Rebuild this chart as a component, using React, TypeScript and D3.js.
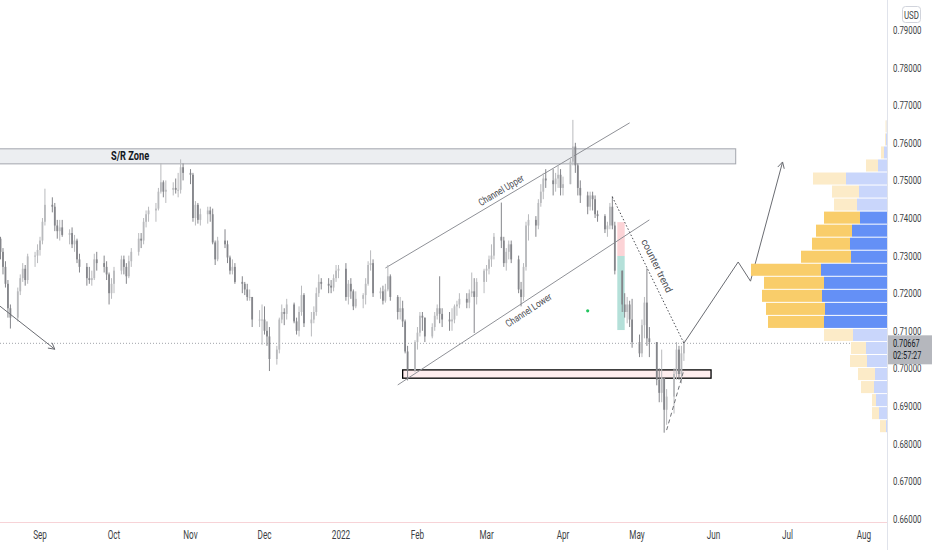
import { useRef, useEffect } from 'react'
import * as d3 from 'd3'

type Hlc = [number, number, number]

// AUD/USD daily bars, [high, low, close] in pips (price * 10000), weekdays only
const aug21: Hlc[] = [
  [7350, 7290, 7310], [7320, 7250, 7270], [7285, 7215, 7225], [7235, 7135, 7160], [7170, 7106, 7135],
  [7215, 7125, 7205], [7250, 7195, 7240], [7280, 7230, 7265], [7275, 7220, 7235], [7305, 7225, 7298],
  [7310, 7270, 7300], [7330, 7280, 7315],
]
const sep21: Hlc[] = [
  [7350, 7300, 7340], [7400, 7330, 7390], [7478, 7380, 7435], [7455, 7415, 7430], [7440, 7365, 7380],
  [7395, 7345, 7365], [7395, 7340, 7375], [7395, 7350, 7355], [7370, 7330, 7360], [7375, 7320, 7330],
  [7355, 7310, 7340], [7345, 7280, 7290], [7305, 7255, 7270], [7280, 7220, 7240], [7270, 7225, 7235],
  [7260, 7220, 7240], [7305, 7235, 7290], [7310, 7260, 7280], [7300, 7255, 7270], [7285, 7235, 7250],
  [7255, 7170, 7200], [7240, 7185, 7225],
]
const oct21: Hlc[] = [
  [7270, 7200, 7260], [7300, 7250, 7290], [7300, 7250, 7270], [7280, 7225, 7245], [7300, 7240, 7285],
  [7320, 7270, 7310], [7360, 7300, 7345], [7360, 7320, 7340], [7400, 7330, 7390], [7420, 7375, 7410],
  [7430, 7390, 7420], [7440, 7390, 7425], [7480, 7420, 7470], [7546, 7465, 7495], [7500, 7455, 7470],
  [7500, 7440, 7475], [7495, 7460, 7480], [7505, 7465, 7475], [7520, 7455, 7475], [7556, 7465, 7535],
  [7545, 7500, 7520],
]
const nov21: Hlc[] = [
  [7530, 7490, 7515], [7520, 7390, 7400], [7445, 7380, 7435], [7440, 7385, 7395], [7425, 7380, 7410],
  [7430, 7385, 7420], [7430, 7390, 7410], [7425, 7330, 7335], [7340, 7275, 7290], [7350, 7285, 7340],
  [7370, 7320, 7330], [7340, 7280, 7295], [7300, 7250, 7260], [7290, 7250, 7270], [7280, 7225, 7230],
  [7245, 7200, 7225], [7230, 7195, 7210], [7225, 7180, 7190], [7210, 7180, 7190], [7190, 7110, 7130],
  [7155, 7110, 7130], [7170, 7063, 7130],
]
const dec21: Hlc[] = [
  [7165, 7090, 7100], [7125, 7060, 7085], [7110, 6993, 7025], [7060, 7010, 7050], [7135, 7040, 7130],
  [7170, 7120, 7150], [7160, 7115, 7145], [7185, 7130, 7170], [7175, 7120, 7125], [7135, 7090, 7100],
  [7165, 7085, 7150], [7220, 7140, 7195], [7200, 7110, 7120], [7150, 7085, 7130], [7165, 7120, 7150],
  [7215, 7140, 7200], [7250, 7190, 7230], [7240, 7210, 7225], [7240, 7200, 7220], [7235, 7200, 7215],
  [7250, 7205, 7240], [7275, 7230, 7260], [7275, 7240, 7265],
]
const jan22: Hlc[] = [
  [7280, 7180, 7190], [7235, 7170, 7225], [7240, 7185, 7205], [7210, 7155, 7165], [7205, 7160, 7185],
  [7200, 7160, 7195], [7240, 7170, 7225], [7285, 7220, 7275], [7314, 7260, 7280], [7290, 7190, 7200],
  [7215, 7185, 7205], [7220, 7170, 7180], [7225, 7175, 7210], [7275, 7205, 7245], [7250, 7180, 7190],
  [7195, 7130, 7150], [7190, 7130, 7160], [7180, 7110, 7125], [7130, 7040, 7045], [7060, 6968, 6995],
  [7075, 6990, 7070],
]
const feb22: Hlc[] = [
  [7110, 7050, 7095], [7150, 7085, 7140], [7150, 7100, 7135], [7135, 7070, 7085], [7120, 7080, 7110],
  [7150, 7100, 7140], [7170, 7130, 7160], [7245, 7120, 7145], [7160, 7110, 7130], [7150, 7100, 7125],
  [7160, 7100, 7130], [7170, 7120, 7165], [7180, 7140, 7170], [7200, 7160, 7185], [7200, 7160, 7175],
  [7210, 7160, 7200], [7255, 7190, 7205], [7240, 7094, 7190], [7240, 7170, 7230], [7265, 7200, 7260],
]
const mar22: Hlc[] = [
  [7275, 7230, 7265], [7300, 7250, 7290], [7330, 7270, 7300], [7360, 7290, 7350], [7441, 7320, 7340],
  [7350, 7270, 7280], [7320, 7260, 7310], [7340, 7290, 7330], [7340, 7280, 7290], [7300, 7200, 7210],
  [7230, 7165, 7190], [7280, 7180, 7270], [7390, 7260, 7380], [7410, 7340, 7395], [7405, 7350, 7380],
  [7450, 7370, 7440], [7490, 7430, 7470], [7520, 7450, 7505], [7530, 7480, 7500], [7530, 7460, 7490],
  [7520, 7470, 7505], [7540, 7480, 7515], [7530, 7460, 7480],
]
const apr22: Hlc[] = [
  [7510, 7460, 7490], [7560, 7490, 7550], [7661, 7540, 7590], [7600, 7520, 7540], [7545, 7460, 7480],
  [7500, 7440, 7460], [7470, 7410, 7430], [7470, 7420, 7460], [7470, 7420, 7450], [7460, 7400, 7410],
  [7420, 7390, 7405], [7410, 7360, 7370], [7390, 7350, 7380], [7440, 7370, 7430], [7458, 7370, 7380],
  [7390, 7250, 7260], [7260, 7150, 7170], [7200, 7135, 7150], [7190, 7120, 7170], [7180, 7110, 7130],
  [7185, 7055, 7070],
]
const may22: Hlc[] = [
  [7090, 7030, 7040], [7130, 7030, 7115], [7190, 7080, 7175], [7266, 7060, 7080], [7110, 7030, 7070],
  [7060, 6955, 6970], [7000, 6910, 6935], [7050, 6910, 6975], [6960, 6829, 6890], [6945, 6850, 6925],
  [7000, 6880, 6985], [7070, 6970, 7050], [7060, 6970, 6985], [7060, 6960, 7040], [7075, 7020, 7067],
]
const firstDay = '2021-08-16'
const firstOpen = 7345

const monthStarts = [
  '2021-09-01', '2021-10-01', '2021-11-01', '2021-12-01', '2022-01-01', '2022-02-01',
  '2022-03-01', '2022-04-01', '2022-05-01', '2022-06-01', '2022-07-01', '2022-08-01',
]
const monthLabels = ['Sep', 'Oct', 'Nov', 'Dec', '2022', 'Feb', 'Mar', 'Apr', 'May', 'Jun', 'Jul', 'Aug']
const priceTicks = [0.79, 0.78, 0.77, 0.76, 0.75, 0.74, 0.73, 0.72, 0.71, 0.70, 0.69, 0.68, 0.67, 0.66]

// visible range volume profile, rows from the high down to the low
const vpHigh = 0.7661
const vpLow = 0.6829
const vpUp = [0.5, 1, 3, 9, 41, 28, 30, 27, 35, 37, 36, 66, 63, 65, 62, 63, 34, 21, 20, 12, 13, 11, 8, 1]
const vpDown = [1, 1, 3, 12, 33, 27, 23, 36, 36, 38, 50, 70, 60, 60, 59, 56, 29, 15, 17, 17, 13, 4, 7, 6]
const vpValueArea = [7, 15]

const lastPrice = 0.70667
const countdown = '02:57:27'

// drawings, anchored as [date, price]
const srZone = { from: '2021-02-04', to: '2022-06-10', top: 0.7584, bottom: 0.7544, label: 'S/R Zone' }
const supportBox = { from: '2022-01-26', to: '2022-05-31', top: 0.6996, bottom: 0.6974 }
const channelUpper: [string, number][] = [['2022-01-19', 0.7267], ['2022-04-28', 0.7653]]
const channelLower: [string, number][] = [['2022-01-24', 0.6956], ['2022-05-06', 0.7395]]
const counterTrend: [string, number][] = [['2022-04-21', 0.7456], ['2022-05-20', 0.7067]]
const bounceDashed: [string, number][] = [['2022-05-13', 0.6836], ['2022-05-20', 0.6996]]
const projection: [string, number][] = [
  ['2022-05-20', 0.7067], ['2022-06-11', 0.7283], ['2022-06-16', 0.7232], ['2022-06-29', 0.7549],
]
const leftArrow: [string, number][] = [['2021-08-12', 0.7185], ['2021-09-07', 0.7051]]
const riskBox = { from: '2022-04-23', to: '2022-04-26', stop: 0.7389, entry: 0.7299, target: 0.7102 }
const marker: [string, number] = ['2022-04-11', 0.7153]

const parse = d3.timeParse('%Y-%m-%d') as (s: string) => Date
const FONT = 'Roboto, "Liberation Sans", sans-serif'

export default function App() {
  const svgRef = useRef<SVGSVGElement>(null)

  useEffect(() => {
    if (!svgRef.current) return
    const svg = d3.select(svgRef.current)
    svg.selectAll('*').remove()

    const width = 932
    const height = 550
    const plotRight = 887
    const plotBottom = 522

    const x = d3.scaleTime().domain([parse('2021-09-01'), parse('2022-08-01')]).range([40, 864])
    const y = d3.scaleLinear().domain([0.66, 0.79]).range([518.8, 30])

    // bars on weekdays
    const rows = [aug21, sep21, oct21, nov21, dec21, jan22, feb22, mar22, apr22, may22].flat()
    const bars: { date: Date; open: number; high: number; low: number; close: number }[] = []
    let day = parse(firstDay)
    let prev = firstOpen
    for (const [h, l, c] of rows) {
      while (day.getDay() === 0 || day.getDay() === 6) day = d3.timeDay.offset(day, 1)
      bars.push({
        date: day,
        open: prev / 1e4,
        high: Math.max(h, prev, c) / 1e4,
        low: Math.min(l, prev, c) / 1e4,
        close: c / 1e4,
      })
      prev = c
      day = d3.timeDay.offset(day, 1)
    }

    svg.attr('width', width).attr('height', height)
    svg.append('rect').attr('width', width).attr('height', height).attr('fill', '#ffffff')

    svg.append('defs').append('clipPath').attr('id', 'plot')
      .append('rect').attr('x', 0).attr('y', 0).attr('width', plotRight).attr('height', plotBottom)

    const g = svg.append('g').attr('clip-path', 'url(#plot)')
    const pt = (p: [string, number]) => [x(parse(p[0])), y(p[1])] as [number, number]
    const line = d3.line()

    // S/R zone
    const srX0 = x(parse(srZone.from))
    const srX1 = x(parse(srZone.to))
    g.append('rect')
      .attr('x', srX0).attr('y', y(srZone.top))
      .attr('width', srX1 - srX0).attr('height', y(srZone.bottom) - y(srZone.top))
      .attr('fill', '#eceef1').attr('stroke', '#a3a6ad').attr('stroke-width', 1)
    g.append('text')
      .attr('transform', `translate(${(srX0 + srX1) / 2},${(y(srZone.top) + y(srZone.bottom)) / 2 + 4}) scale(0.74,1)`)
      .attr('text-anchor', 'middle').attr('font-family', FONT).attr('font-size', 12.5).attr('font-weight', 700)
      .attr('fill', '#131722').text(srZone.label)

    // support box
    const sbX0 = x(parse(supportBox.from))
    const sbX1 = x(parse(supportBox.to))
    g.append('rect')
      .attr('x', sbX0).attr('y', y(supportBox.top))
      .attr('width', sbX1 - sbX0).attr('height', y(supportBox.bottom) - y(supportBox.top))
      .attr('fill', 'rgba(242, 54, 69, 0.09)').attr('stroke', '#000000').attr('stroke-width', 1.3)

    // long/short position box
    const rbX0 = x(parse(riskBox.from))
    const rbX1 = x(parse(riskBox.to))
    g.append('rect')
      .attr('x', rbX0).attr('y', y(riskBox.stop)).attr('width', rbX1 - rbX0)
      .attr('height', y(riskBox.entry) - y(riskBox.stop)).attr('fill', 'rgba(242, 54, 69, 0.22)')
    g.append('rect')
      .attr('x', rbX0).attr('y', y(riskBox.entry)).attr('width', rbX1 - rbX0)
      .attr('height', y(riskBox.target) - y(riskBox.entry)).attr('fill', 'rgba(8, 153, 129, 0.3)')

    // channel lines
    for (const seg of [channelUpper, channelLower]) {
      g.append('path').attr('d', line(seg.map(pt))).attr('fill', 'none')
        .attr('stroke', '#8f9197').attr('stroke-width', 1)
    }

    // dotted current price line
    g.append('line')
      .attr('x1', 0).attr('x2', plotRight).attr('y1', y(lastPrice)).attr('y2', y(lastPrice))
      .attr('stroke', '#a0a3aa').attr('stroke-dasharray', '1,2')

    // candles
    const upColor = '#b9babd'
    const downColor = '#85868b'
    const cg = g.append('g')
    cg.selectAll('line.wick')
      .data(bars)
      .join('line')
      .attr('class', 'wick')
      .attr('x1', (d) => x(d.date)).attr('x2', (d) => x(d.date))
      .attr('y1', (d) => y(d.high)).attr('y2', (d) => y(d.low))
      .attr('stroke', (d) => (d.close >= d.open ? upColor : downColor)).attr('stroke-width', 1)
    cg.selectAll('rect.body')
      .data(bars)
      .join('rect')
      .attr('class', 'body')
      .attr('x', (d) => x(d.date) - 0.9)
      .attr('y', (d) => y(Math.max(d.open, d.close)))
      .attr('width', 1.8)
      .attr('height', (d) => Math.max(1, Math.abs(y(d.open) - y(d.close))))
      .attr('fill', (d) => (d.close >= d.open ? upColor : downColor))

    // counter trend + dashed bounce line
    g.append('path').attr('d', line(counterTrend.map(pt))).attr('fill', 'none')
      .attr('stroke', '#4a4c52').attr('stroke-width', 1).attr('stroke-dasharray', '1.5,2')
    g.append('path').attr('d', line(bounceDashed.map(pt))).attr('fill', 'none')
      .attr('stroke', '#6f7176').attr('stroke-width', 1).attr('stroke-dasharray', '4,3')

    // arrows
    const arrowHead = (from: [number, number], to: [number, number]) => {
      const a = Math.atan2(to[1] - from[1], to[0] - from[0])
      const len = 7
      const p1: [number, number] = [to[0] - len * Math.cos(a - 0.5), to[1] - len * Math.sin(a - 0.5)]
      const p2: [number, number] = [to[0] - len * Math.cos(a + 0.5), to[1] - len * Math.sin(a + 0.5)]
      return line([p1, to, p2])
    }
    for (const path of [projection, leftArrow]) {
      const pts = path.map(pt)
      g.append('path').attr('d', line(pts)).attr('fill', 'none').attr('stroke', '#6a6c72').attr('stroke-width', 1)
      g.append('path').attr('d', arrowHead(pts[pts.length - 2], pts[pts.length - 1]))
        .attr('fill', 'none').attr('stroke', '#6a6c72').attr('stroke-width', 1)
    }

    // marker
    const [mx, my] = pt(marker)
    g.append('circle').attr('cx', mx).attr('cy', my).attr('r', 1.6).attr('fill', '#22c55e')

    // line labels
    const lineLabel = (seg: [string, number][], t: number, offset: number, text: string, len: number) => {
      const [a, b] = seg.map(pt)
      const ang = Math.atan2(b[1] - a[1], b[0] - a[0])
      const cx = a[0] + (b[0] - a[0]) * t + Math.sin(ang) * offset
      const cy = a[1] + (b[1] - a[1]) * t - Math.cos(ang) * offset
      g.append('text')
        .attr('transform', `translate(${cx},${cy}) rotate(${(ang * 180) / Math.PI})`)
        .attr('text-anchor', 'middle').attr('dominant-baseline', 'middle')
        .attr('font-family', FONT).attr('font-size', 10).attr('fill', '#4a4c52')
        .attr('textLength', len).attr('lengthAdjust', 'spacingAndGlyphs')
        .text(text)
    }
    lineLabel(channelUpper, 0.49, 7, 'Channel Upper', 51)
    lineLabel(channelLower, 0.5, -10, 'Channel Lower', 53)
    lineLabel(counterTrend, 0.5, 9, 'counter trend', 58)

    // volume profile
    const rowCount = vpUp.length
    const rowSize = (vpHigh - vpLow) / rowCount
    const totals = vpUp.map((v, i) => v + vpDown[i])
    const w = d3.scaleLinear().domain([0, d3.max(totals) as number]).range([0, 136])
    const vg = svg.append('g')
    vpUp.forEach((up, i) => {
      const top = vpHigh - i * rowSize
      const y0 = y(top) + 0.5
      const h = y(top - rowSize) - y(top) - 1
      const inVa = i >= vpValueArea[0] && i <= vpValueArea[1]
      const wu = w(up)
      const wd = w(vpDown[i])
      vg.append('rect').attr('x', plotRight - wu).attr('y', y0).attr('width', wu).attr('height', h)
        .attr('fill', inVa ? '#6490f6' : '#c9d6fb')
      vg.append('rect').attr('x', plotRight - wu - wd).attr('y', y0).attr('width', wd).attr('height', h)
        .attr('fill', inVa ? '#f9cd6a' : '#fcebc8')
    })

    // axis borders
    svg.append('line').attr('x1', 0).attr('x2', plotRight).attr('y1', plotBottom + 0.5).attr('y2', plotBottom + 0.5)
      .attr('stroke', '#f7d3d7')
    svg.append('line').attr('x1', plotRight + 0.5).attr('x2', plotRight + 0.5).attr('y1', 0).attr('y2', height)
      .attr('stroke', '#e0e3eb')

    // price axis
    const pg = svg.append('g')
    pg.selectAll('text')
      .data(priceTicks)
      .join('text')
      .attr('transform', (d) => `translate(893,${y(d) + 4}) scale(0.68,1)`)
      .attr('font-family', FONT).attr('font-size', 11.5).attr('fill', '#3d3f45')
      .text((d) => d.toFixed(5))

    // usd badge
    svg.append('rect').attr('x', 902.5).attr('y', 6.5).attr('width', 18).attr('height', 16).attr('rx', 3)
      .attr('fill', '#ffffff').attr('stroke', '#d1d4dc')
    svg.append('text').attr('transform', 'translate(911.5,18.5) scale(0.72,1)')
      .attr('text-anchor', 'middle').attr('font-family', FONT).attr('font-size', 11).attr('fill', '#3d3f45')
      .text('USD')

    // last price badge
    const ly = y(lastPrice)
    svg.append('rect').attr('x', plotRight + 1).attr('y', ly - 8).attr('width', width - plotRight).attr('height', 29)
      .attr('fill', '#b5b7bd')
    svg.append('text').attr('transform', `translate(893,${ly + 3.5}) scale(0.7,1)`)
      .attr('font-family', FONT).attr('font-size', 10.5).attr('fill', '#131722').text(lastPrice.toFixed(5))
    svg.append('text').attr('transform', `translate(893,${ly + 16}) scale(0.7,1)`)
      .attr('font-family', FONT).attr('font-size', 10.5).attr('fill', '#131722').text(countdown)

    // time axis
    svg.append('g')
      .selectAll('text')
      .data(monthStarts)
      .join('text')
      .attr('transform', (d) => `translate(${x(parse(d))},539) scale(0.68,1)`)
      .attr('text-anchor', 'middle').attr('font-family', FONT).attr('font-size', 12).attr('fill', '#3d3f45')
      .text((_, i) => monthLabels[i])
  }, [])

  return (
    <svg ref={svgRef} width={932} height={550} style={{ position: 'absolute', left: 0, top: 0 }} />
  )
}
